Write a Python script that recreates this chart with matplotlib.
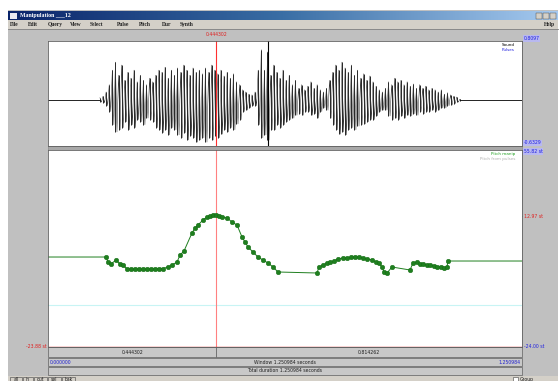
"""Praat manipulation window: waveform + pitch tier"""
import numpy as np
import matplotlib.pyplot as plt
from matplotlib.patches import Rectangle

total_dur = 1.250984
cursor_t = 0.444302
marker_t = 0.5806
wave_top, wave_bottom = 0.8097, -0.6329
pitch_top, pitch_bottom = 55.82, -24.00
floor_st = -6.99
cursor_st = -23.88
right_len = "0.814262"

# waveform envelope (Pa), sampled evenly between wave_t0 and wave_t1
wave_t0, wave_t1 = 0.137, 1.087
wave_upper = [.03, .05, .11, .21, .41,
              .52, .34, .48, .27, .38, .30, .41, .25, .34, .27,
              .21, .30, .25, .34, .41, .38, .45, .30, .41, .34,
              .44, .38, .48, .41, .34, .44, .38, .41, .36, .44,
              .38, .48, .41, .36, .41, .33, .38, .30, .36, .25,
              .21, .14, .11, .08, .07, .11,
              .41, .69, .41, .66, .34, .48, .38, .30, .41, .27,
              .34, .21, .27, .16, .21, .14, .19, .25, .16, .21,
              .14, .11, .16, .27, .38, .48, .41, .52, .44, .38,
              .48, .34, .41, .30, .36, .27, .33, .25, .19, .14,
              .11, .16, .25, .21, .30, .25, .27, .21, .25, .19,
              .22, .16, .21, .16, .19, .14, .16, .14, .11, .14,
              .08, .10, .07, .05, .04, .01]
wave_lower = [-.03, -.04, -.08, -.16, -.34,
              -.44, -.41, -.38, -.30, -.41, -.34, -.38, -.27, -.30, -.34,
              -.25, -.27, -.30, -.38, -.41, -.45, -.41, -.48, -.38, -.41,
              -.48, -.52, -.45, -.55, -.49, -.52, -.58, -.55, -.52, -.58,
              -.52, -.55, -.49, -.52, -.47, -.41, -.44, -.38, -.41, -.33,
              -.27, -.16, -.14, -.11, -.08, -.08,
              -.34, -.52, -.48, -.55, -.41, -.41, -.34, -.38, -.34, -.30,
              -.27, -.25, -.21, -.19, -.21, -.16, -.16, -.21, -.19, -.25,
              -.16, -.11, -.14, -.25, -.34, -.41, -.47, -.44, -.48, -.41,
              -.38, -.41, -.36, -.34, -.33, -.30, -.27, -.27, -.22, -.16,
              -.14, -.14, -.22, -.27, -.25, -.27, -.22, -.25, -.21, -.22,
              -.19, -.21, -.16, -.19, -.16, -.16, -.14, -.16, -.14, -.11,
              -.11, -.08, -.07, -.05, -.03, -.01]

# pitch tier points (s, semitones)
pitch_t = [0.1531, 0.1584, 0.1663, 0.1795, 0.1900, 0.1979, 0.2085,
           0.2191, 0.2296, 0.2402, 0.2507, 0.2613, 0.2718, 0.2824, 0.2929, 0.3035,
           0.3167, 0.3273, 0.3405, 0.3484, 0.3589,
           0.3800, 0.3880, 0.3959, 0.4091, 0.4196, 0.4275,
           0.4355, 0.4434, 0.4513, 0.4592, 0.4724, 0.4856, 0.4988,
           0.5120, 0.5199, 0.5278, 0.5410, 0.5542, 0.5674, 0.5806, 0.5938, 0.6070,
           0.7099, 0.7152, 0.7258, 0.7363, 0.7443, 0.7548, 0.7654, 0.7786, 0.7891, 0.7997,
           0.8102, 0.8208, 0.8313, 0.8419, 0.8551, 0.8657, 0.8736, 0.8815, 0.8868, 0.8947,
           0.9079, 0.9554, 0.9633, 0.9739, 0.9818, 0.9897, 1.0003, 1.0082, 1.0187, 1.0266,
           1.0372, 1.0451, 1.0530, 1.0557]
pitch_st = [12.46, 10.44, 9.63, 11.25, 9.63, 9.22, 7.60,
            7.52, 7.45, 7.45, 7.50, 7.55, 7.60, 7.65, 7.70, 7.80,
            8.41, 9.22, 10.44, 13.27, 14.89,
            22.19, 24.21, 25.43, 27.46, 28.67, 29.08,
            29.48, 29.48, 29.08, 28.67, 28.27, 26.65, 25.43,
            20.57, 18.54, 16.52, 14.49, 12.46, 11.25, 10.03, 8.41, 6.39,
            5.98, 8.41, 9.22, 10.03, 10.44, 10.84, 11.65, 12.06, 12.06, 12.46,
            12.46, 12.46, 12.06, 11.65, 11.25, 10.44, 10.03, 8.41, 6.39, 5.98,
            8.41, 7.20, 10.03, 10.44, 9.63, 9.63, 9.22, 9.22, 8.81, 8.41,
            8.41, 8.00, 8.41, 10.84]

W, H = 560, 381
fig = plt.figure(figsize=(W / 100, H / 100), dpi=100)

# window chrome drawn in pixel coordinates
ax0 = fig.add_axes([0, 0, 1, 1])
ax0.set_xlim(0, W)
ax0.set_ylim(H, 0)
ax0.axis("off")


def box(x0, y0, x1, y1, fc, ec="none", lw=0.6, z=1):
    ax0.add_patch(Rectangle((x0, y0), x1 - x0, y1 - y0, fc=fc, ec=ec, lw=lw, zorder=z))


def px_axes(x0, y0, x1, y1):
    return fig.add_axes([x0 / W, (H - y1) / H, (x1 - x0) / W, (y1 - y0) / H])


box(8, 10, 558, H, "#c0c0c0")
# title bar gradient
grad = np.linspace(0, 1, 256).reshape(1, -1)
ax0.imshow(grad, extent=(8, 558, 20, 11), cmap=plt.matplotlib.colors.LinearSegmentedColormap.from_list(
    "tb", ["#0a246a", "#3a6ea5", "#a6caf0"]), aspect="auto", zorder=2)
box(10, 12.5, 17, 18.5, "#e8e8f0", z=3)
ax0.text(20, 15.7, "Manipulation ___12", color="white", fontsize=4.2, fontweight="bold",
         family="Liberation Serif", va="center", zorder=3)
for bx in (536, 543, 550):
    box(bx, 12.5, bx + 6, 18.5, "#d4d0c8", ec="#404040", lw=0.3, z=3)
# menu bar
box(8, 20, 558, 29, "#d4d0c8")
ax0.plot([8, 558], [29, 29], color="#808080", lw=0.6, zorder=2)
menu = ["File", "Edit", "Query", "View", "Select", "Pulse", "Pitch", "Dur", "Synth"]
mx = [10, 28, 48, 70, 90, 117, 139, 162, 180]
for name, x in zip(menu, mx):
    ax0.text(x, 24.8, name, fontsize=4, fontweight="bold", family="Liberation Serif",
             va="center", color="#202020", zorder=3)
ax0.text(544, 24.8, "Help", fontsize=4, fontweight="bold", family="Liberation Serif",
         va="center", color="#202020", zorder=3)

# separator between panels
box(48, 146, 522, 150, "#a8a8a8", ec="#808080", lw=0.4)

# time bars under the panels
cur_px = 48 + cursor_t / total_dur * 474
box(48, 347, cur_px, 357, "#c8c8c8", ec="#606060", lw=0.5)
box(cur_px, 347, 522, 357, "#c8c8c8", ec="#606060", lw=0.5)
box(48, 358, 522, 366, "#c8c8c8", ec="#606060", lw=0.5)
box(48, 367, 522, 375, "#c8c8c8", ec="#606060", lw=0.5)
small = dict(fontsize=3.3, va="center", zorder=3)
ax0.text((48 + cur_px) / 2, 352, f"{cursor_t:.6f}", ha="center", color="#202020", **small)
ax0.text((cur_px + 522) / 2, 352, right_len, ha="center", color="#202020", **small)
ax0.text(50, 362, "0.000000", ha="left", color="#2020d0", **small)
ax0.text(285, 362, f"Window {total_dur:.6f} seconds", ha="center", color="#202020", **small)
ax0.text(520, 362, f"{total_dur:.6f}", ha="right", color="#2020d0", **small)
ax0.text(285, 371, f"Total duration {total_dur:.6f} seconds", ha="center", color="#202020", **small)
# bottom buttons
box(8, 376, 558, H, "#d4d0c8")
for lbl, x0, x1 in [("all", 10, 22), ("in", 23, 33), ("out", 34, 47), ("sel", 48, 61), ("bak", 62, 75)]:
    box(x0, 376.5, x1, H, "#d4d0c8", ec="#404040", lw=0.4, z=2)
    ax0.text((x0 + x1) / 2, 379.5, lbl, ha="center", color="#202020", **small)
box(513, 377, 518, H, "white", ec="#404040", lw=0.4, z=2)
ax0.text(520, 379.5, "Group", ha="left", color="#202020", **small)

# cursor time label above waveform
ax0.text(cur_px, 34, f"{cursor_t:.6f}", ha="center", color="#e02020", **small)


# right-side scale labels
def side_label(y, s, color, bg=None, ha="left", x=523.5):
    kw = dict(boxstyle="square,pad=0.15", fc=bg, ec="none") if bg else None
    ax0.text(x, y, s, ha=ha, color=color, fontsize=3.3, va="center", zorder=4, bbox=kw)


side_label(38.5, f"{wave_top:.4f}", "#2020e0", "#b8b8f0")
side_label(143, f"{wave_bottom:.4f}", "#2020e0", "#b8b8f0")
side_label(151.5, f"{pitch_top:.2f} st", "#2020e0", "#b8b8f0")
side_label(216, "12.97 st", "#e02020")
ax0.plot([517, 522], [216, 216], color="#40c080", lw=0.6, zorder=4)
side_label(346.5, f"{pitch_bottom:.2f} st", "#2020e0")
side_label(346, f"{cursor_st:.2f} st", "#e02020", ha="right", x=47)

# waveform panel
axw = px_axes(48, 41, 522, 146)
axw.set_xlim(0, total_dur)
axw.set_ylim(wave_bottom, wave_top)
tw = np.linspace(wave_t0, wave_t1, len(wave_upper))
dt = tw[1] - tw[0]
zig_t = np.column_stack([tw, tw + dt / 2]).ravel()
zig_v = np.column_stack([wave_upper, wave_lower]).ravel()
axw.plot([0, wave_t0], [0, 0], color="black", lw=0.6)
axw.plot([wave_t1, total_dur], [0, 0], color="black", lw=0.6)
axw.vlines(tw, wave_lower, wave_upper, color="black", lw=0.6)
axw.plot(zig_t, zig_v, color="#303030", lw=0.35)
axw.axvline(marker_t, color="black", lw=0.8)
axw.axvline(cursor_t, color="#ff3030", lw=0.8)
axw.text(0.985, 0.985, "Sound", transform=axw.transAxes, ha="right", va="top", fontsize=3, color="black")
axw.text(0.985, 0.935, "Pulses", transform=axw.transAxes, ha="right", va="top", fontsize=3, color="#2020e0")

# pitch panel
axp = px_axes(48, 150, 522, 347)
axp.set_xlim(0, total_dur)
axp.set_ylim(pitch_bottom, pitch_top)
axp.axhline(floor_st, color="#c8f4f4", lw=0.8)
axp.axvline(cursor_t, color="#ff8080", lw=0.8)
axp.axhline(cursor_st, color="#e02020", lw=1.0)
green = "#1f7f1f"
axp.plot([0] + pitch_t + [total_dur], [pitch_st[0]] + pitch_st + [pitch_st[-1]], color=green, lw=0.7)
axp.plot(pitch_t, pitch_st, "o", ms=3.3, color=green, mec="#0f6a0f", mew=0.3)
axp.text(0.985, 0.99, "Pitch manip", transform=axp.transAxes, ha="right", va="top", fontsize=3, color="#20a020")
axp.text(0.985, 0.965, "Pitch from pulses", transform=axp.transAxes, ha="right", va="top", fontsize=3, color="#b0b0b0")

for a in (axw, axp):
    a.set_xticks([])
    a.set_yticks([])
    for s in a.spines.values():
        s.set_color("#606060")
        s.set_linewidth(0.6)

fig.savefig("out.png", dpi=100)
